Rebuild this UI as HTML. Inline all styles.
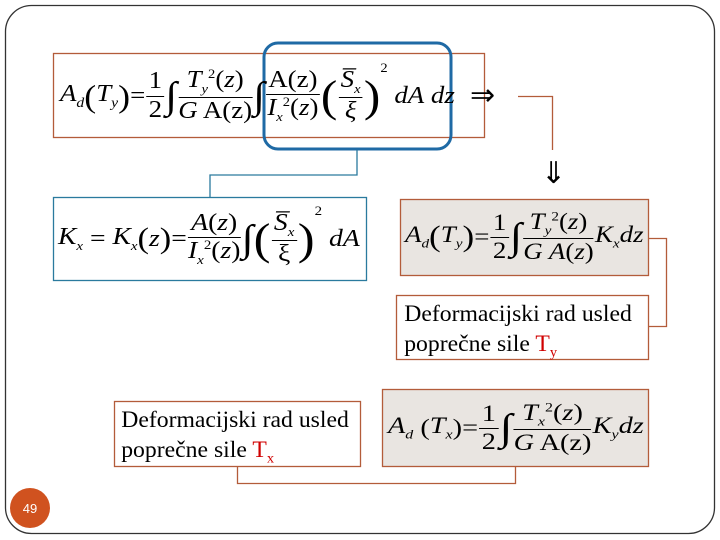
<!DOCTYPE html>
<html><head><meta charset="utf-8"><style>
body{margin:0;width:720px;height:540px;background:#fff;position:relative;overflow:hidden;font-family:"Liberation Serif",serif}
.a{position:absolute}
.f{position:absolute;font-family:"Liberation Serif",serif;color:#000;white-space:nowrap;transform-origin:left center}
i{font-style:italic}
.fr{display:inline-block;vertical-align:middle;text-align:center;margin:0 1px}
.fr>span{display:block;line-height:1.15}
.fr>span.n{border-bottom:1.2px solid #000;padding:0 2px}
.int{font-size:38px;vertical-align:middle}
.t{font-size:23px;line-height:30px;padding:2px 7px;transform:scaleX(1.03)}
.red{color:#d00000}
</style></head><body>
<svg class="a" style="left:0;top:0" width="720" height="540">
<rect x="5.5" y="5.5" width="709" height="528" rx="26" fill="none" stroke="#333" stroke-width="1.3"/>
<rect x="53.5" y="53.5" width="431" height="84" fill="#fff" stroke="#b35c3a" stroke-width="1.3"/>
<rect x="53.5" y="197.5" width="313" height="83" fill="#fff" stroke="#2a7a9e" stroke-width="1.3"/>
<rect x="400.5" y="199.5" width="248" height="76" fill="#e9e5e1" stroke="#b35c3a" stroke-width="1.3"/>
<rect x="396.5" y="295.5" width="252" height="64" fill="#fff" stroke="#b35c3a" stroke-width="1.3"/>
<rect x="114.5" y="401.5" width="246" height="65" fill="#fff" stroke="#b35c3a" stroke-width="1.3"/>
<rect x="382.5" y="389.5" width="266" height="77" fill="#e9e5e1" stroke="#b35c3a" stroke-width="1.3"/>
<rect x="264" y="43" width="187" height="106" rx="14" fill="none" stroke="#1f6aa5" stroke-width="3"/>
<polyline points="357,150 357,175 210,175 210,197" fill="none" stroke="#2a7a9e" stroke-width="1.3"/>
<polyline points="518,96.5 552.5,96.5 552.5,150" fill="none" stroke="#b35c3a" stroke-width="1.3"/>
<polyline points="648,238.5 666.5,238.5 666.5,326.5 648,326.5" fill="none" stroke="#b35c3a" stroke-width="1.3"/>
<polyline points="237.5,466 237.5,483.5 515.5,483.5 515.5,466" fill="none" stroke="#b35c3a" stroke-width="1.3"/>
<circle cx="30" cy="508" r="20" fill="#d0521f"/>
<text x="30" y="513" font-family="Liberation Sans" font-size="13" fill="#fff" text-anchor="middle">49</text>
</svg>
<div class="f" style="left:470px;top:78px;font-size:30px">⇒</div>
<div class="f" style="left:541px;top:156px;font-size:30px">⇓</div>

<div class="f" style="left:60px;top:60px;font-size:24px;height:72px;display:flex;align-items:center;transform:scaleX(1.12)">
<i>A<sub style="font-size:14px">d</sub></i><span style="font-size:32px">(</span><i>T<sub style="font-size:14px">y</sub></i><span style="font-size:32px">)</span>=
<span class="fr"><span class="n">1</span><span>2</span></span><span class="int">∫</span>
<span class="fr"><span class="n"><i>T</i><sub style="font-size:13px"><i>y</i></sub><sup style="font-size:13px">2</sup>(<i>z</i>)</span><span><i>G</i> A(z)</span></span><span class="int">∫</span>
<span class="fr"><span class="n">A(z)</span><span><i>I</i><sub style="font-size:13px"><i>x</i></sub><sup style="font-size:13px">2</sup>(<i>z</i>)</span></span><span style="font-size:44px">(</span><span class="fr"><span class="n"><i>S̅<sub style="font-size:13px">x</sub></i></span><span><i>ξ</i></span></span><span style="font-size:44px">)</span><sup style="font-size:13px;align-self:flex-start">2</sup>&nbsp;<i>dA</i>&nbsp;<i>dz</i>
</div>

<div class="f" style="left:58px;top:203px;font-size:24px;height:72px;display:flex;align-items:center;transform:scaleX(1.15)">
<i>K<sub style="font-size:13px">x</sub></i>&nbsp;=&nbsp;<i>K<sub style="font-size:13px">x</sub></i><span style="font-size:30px">(</span><i>z</i><span style="font-size:30px">)</span>=
<span class="fr"><span class="n"><i>A</i>(<i>z</i>)</span><span><i>I</i><sub style="font-size:13px"><i>x</i></sub><sup style="font-size:13px">2</sup>(<i>z</i>)</span></span><span class="int">∫</span><span style="font-size:44px">(</span><span class="fr"><span class="n"><i>S̅<sub style="font-size:13px">x</sub></i></span><span>ξ</span></span><span style="font-size:44px">)</span><sup style="font-size:13px;align-self:flex-start">2</sup>&nbsp;<i>dA</i>
</div>

<div class="f" style="left:405px;top:202px;font-size:23px;height:70px;display:flex;align-items:center;transform:scaleX(1.17)">
<i>A<sub style="font-size:13px">d</sub></i><span style="font-size:30px">(</span><i>T<sub style="font-size:13px">y</sub></i><span style="font-size:30px">)</span>=
<span class="fr"><span class="n">1</span><span>2</span></span><span class="int">∫</span>
<span class="fr"><span class="n"><i>T</i><sub style="font-size:13px"><i>y</i></sub><sup style="font-size:13px">2</sup>(<i>z</i>)</span><span><i>G A</i>(<i>z</i>)</span></span><i>K<sub style="font-size:13px">x</sub>dz</i>
</div>

<div class="f t" style="left:397px;top:297px">Deformacijski rad usled<br>poprečne sile <span class="red">T<sub style="font-size:14px">y</sub></span></div>
<div class="f t" style="left:114px;top:403px">Deformacijski rad usled<br>poprečne sile <span class="red">T<sub style="font-size:14px">x</sub></span></div>

<div class="f" style="left:388px;top:392px;font-size:23px;height:72px;display:flex;align-items:center;transform:scaleX(1.23)">
<i>A<sub style="font-size:13px">d</sub></i>&nbsp;(<i>T<sub style="font-size:13px">x</sub></i>)=
<span class="fr"><span class="n">1</span><span>2</span></span><span class="int">∫</span>
<span class="fr"><span class="n"><i>T</i><sub style="font-size:13px"><i>x</i></sub><sup style="font-size:13px">2</sup>(<i>z</i>)</span><span><i>G</i> A(z)</span></span><i>K<sub style="font-size:13px">y</sub>dz</i>
</div>
</body></html>
